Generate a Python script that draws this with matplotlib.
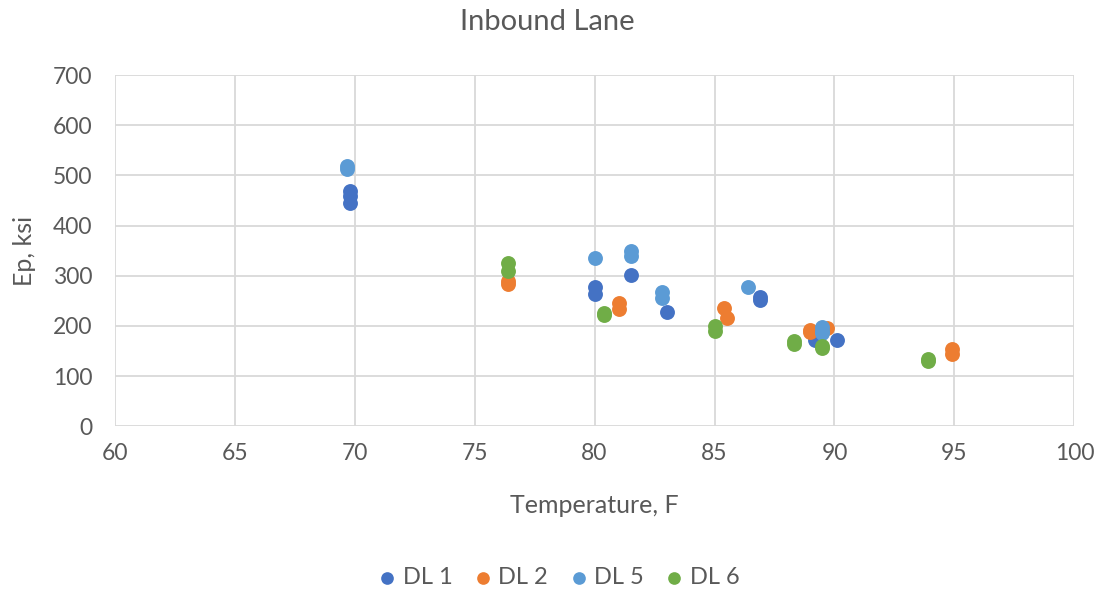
import matplotlib
matplotlib.use("Agg")
import matplotlib.pyplot as plt

plt.rcParams['font.family'] = ['Lato', 'DejaVu Sans']

# readings per dial location: temperature (F) and Ep (ksi)
dl1_t = [69.8, 69.8, 69.8, 80.0, 80.0, 81.5, 83.0, 86.9, 86.9, 89.2, 90.1]
dl1_ep = [470, 460, 445, 277, 263, 301, 227, 258, 251, 172, 172]

dl2_t = [76.4, 76.4, 81.0, 81.0, 85.4, 85.5, 89.0, 89.0, 89.7, 94.9, 94.9]
dl2_ep = [290, 283, 246, 233, 235, 215, 192, 188, 195, 154, 145]

dl5_t = [69.7, 69.7, 80.0, 81.5, 81.5, 82.8, 82.8, 86.4, 89.5, 89.5, 89.5]
dl5_ep = [518, 512, 335, 350, 340, 268, 255, 278, 198, 190, 185]

dl6_t = [76.4, 76.4, 80.4, 80.4, 85.0, 85.0, 88.3, 88.3, 89.5, 89.5, 93.9, 93.9]
dl6_ep = [326, 310, 226, 221, 200, 190, 169, 164, 160, 156, 135, 130]

series = [
    ("DL 1", dl1_t, dl1_ep, "#4472C4"),
    ("DL 2", dl2_t, dl2_ep, "#ED7D31"),
    ("DL 5", dl5_t, dl5_ep, "#5B9BD5"),
    ("DL 6", dl6_t, dl6_ep, "#70AD47"),
]
grey = "#595959"

fig = plt.figure(figsize=(11.02, 5.92), dpi=100)
ax = fig.add_axes([0.104, 0.28, 0.871, 0.593])

for name, t, ep, c in series:
    ax.scatter(t, ep, s=115, color=c, label=name, zorder=3, linewidths=0)

ax.set_xlim(60, 100)
ax.set_ylim(0, 700)
ax.set_xticks(range(60, 101, 5))
ax.set_yticks(range(0, 701, 100))
ax.grid(True, color="#D9D9D9", linewidth=1.3, zorder=0)
ax.set_axisbelow(True)
for s in ax.spines.values():
    s.set_visible(False)
ax.tick_params(length=0, labelsize=16.5, labelcolor=grey)
ax.tick_params(axis="y", pad=16)
ax.tick_params(axis="x", pad=12)

fig.text(0.497, 0.963, "Inbound Lane", fontsize=21, color=grey, ha="center", va="center")
ax.set_xlabel("Temperature, F", fontsize=18, color=grey)
ax.xaxis.set_label_coords(0.5, -0.225)
ax.xaxis.label.set_va("center")
ax.set_ylabel("Ep, ksi", fontsize=18, color=grey)
ax.yaxis.set_label_coords(-0.094, 0.5)
ax.yaxis.label.set_va("center")

leg = fig.legend(loc="center", bbox_to_anchor=(0.508, 0.025), ncol=4, frameon=False,
                 fontsize=17, handlelength=0.6, handletextpad=0.35, columnspacing=1.0,
                 markerscale=0.85)
for txt in leg.get_texts():
    txt.set_color(grey)

fig.savefig("out.png", dpi=100)
